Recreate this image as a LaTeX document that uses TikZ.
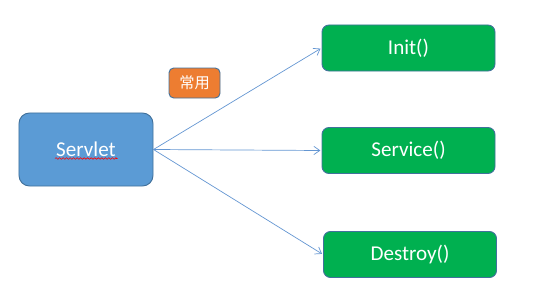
\documentclass[tikz,border=0pt]{standalone}
\usepackage{fontspec}
\setmainfont{Carlito}
\newfontfamily\cjk{Noto Sans CJK SC}
\usepackage{tikz}
\usetikzlibrary{arrows.meta,positioning,decorations.pathmorphing}
\definecolor{servblue}{RGB}{91,155,213}
\definecolor{servedge}{RGB}{65,113,156}
\definecolor{methgreen}{RGB}{0,176,80}
\definecolor{tagorange}{RGB}{237,125,49}
\definecolor{linkblue}{RGB}{100,150,210}

\begin{document}
\begin{tikzpicture}[x=0.03cm,y=-0.03cm,semithick,
-{Straight Barb[length=5pt,width=7pt]},shorten >=1pt]
\tikzstyle{every node}=[text=white,font=\fontsize{18}{21}\selectfont]
\tikzstyle{box}=[draw=servedge,line width=0.8pt,rounded corners=6pt,
inner sep=0pt,-]
\tikzstyle{method}=[box,fill=methgreen,minimum width=5.19cm,minimum height=1.38cm]
\tikzstyle{link}=[draw=linkblue,line width=0.6pt]

\useasboundingbox (0,0) rectangle (560,307);

\node[box,fill=servblue,minimum width=4.02cm,minimum height=2.19cm,
rounded corners=9pt] (servlet) at (86,149.5) {Servlet};
\node[box,fill=tagorange,minimum width=1.53cm,minimum height=0.9cm,
rounded corners=4pt,font=\cjk\fontsize{13}{15}\selectfont] (usual) at (194.5,83) {常用};

\node[method] (init)    at (408.5,48)    {Init()};
\node[method] (service) at (408.5,150.5) {Service()};
\node[method] (destroy) at (410,254.5)   {Destroy()};

% spelling mark under the name
\draw[-,red,line width=0.5pt,decorate,
decoration={snake,amplitude=0.7pt,segment length=3pt}]
(servlet.center)++(-31,9) -- ++(62,0);

\path (servlet.east) edge [link] (init.west)
      (servlet.east) edge [link] (service.west)
      (servlet.east) edge [link] (destroy.west);
\end{tikzpicture}
\end{document}
